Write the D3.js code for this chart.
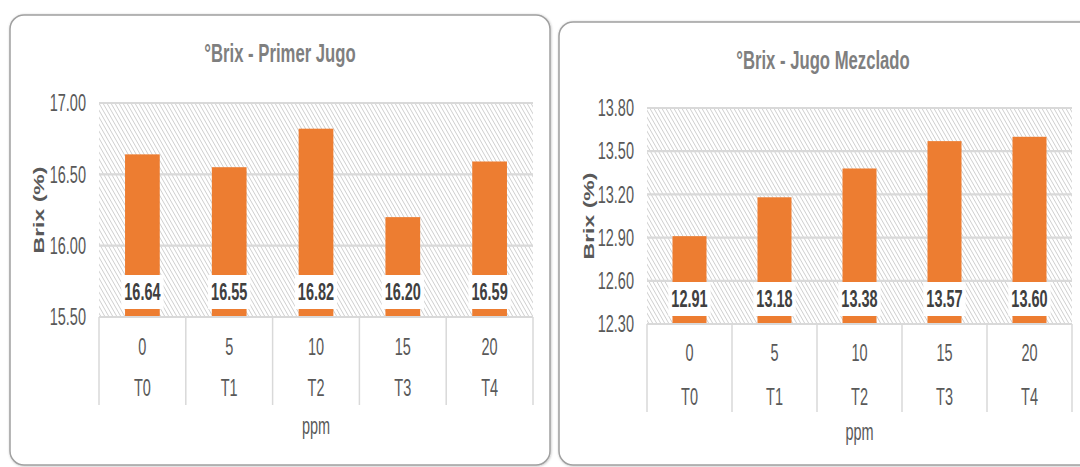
<!DOCTYPE html>
<html><head><meta charset="utf-8">
<script src="https://cdn.jsdelivr.net/npm/d3@7/dist/d3.min.js"></script>
<style>html,body{margin:0;padding:0;background:#fff;}svg{display:block;}</style>
</head><body>
<svg id="c" width="1080" height="467"></svg>
<script>
const ppm = ["0","5","10","15","20"];
const treatments = ["T0","T1","T2","T3","T4"];
const primerJugo = [16.64,16.55,16.82,16.20,16.59];
const jugoMezclado = [12.91,13.18,13.38,13.57,13.60];
const ticksPrimer = [15.50,16.00,16.50,17.00];
const ticksMezclado = [12.30,12.60,12.90,13.20,13.50,13.80];
const titles = ["°Brix - Primer Jugo","°Brix - Jugo Mezclado"];
const yTitle = "Brix (%)";
const xTitle = "ppm";

const S = 0.63; // horizontal text compression
const FONT = "'Liberation Sans', Arial, sans-serif";
const svg = d3.select("#c");

const defs = svg.append("defs");
const pat = defs.append("pattern").attr("id","hatch").attr("patternUnits","userSpaceOnUse")
  .attr("width",4).attr("height",7);
pat.append("rect").attr("width",4).attr("height",7).attr("fill","#fff");
pat.append("path").attr("d","M-1,-1.75L5,8.75M3,-1.75L5,1.75M-1,5.25L1,8.75")
  .attr("stroke","#cfcfcf").attr("stroke-width",1);
const flt = defs.append("filter").attr("id","sh").attr("x","-5%").attr("y","-5%").attr("width","110%").attr("height","110%");
flt.append("feDropShadow").attr("dx",0.5).attr("dy",0.5).attr("stdDeviation",0.8).attr("flood-color","#000").attr("flood-opacity",0.25);

function txt(g, x, y, s, opt) {
  const t = g.append("text")
    .attr("transform", `translate(${x},${y}) scale(${S},1)` + (opt.rot ? " rotate(-90)" : ""))
    .attr("text-anchor", opt.anchor || "middle")
    .attr("dy", "0.36em")
    .attr("font-family", FONT)
    .attr("font-size", opt.size || 22)
    .attr("font-weight", opt.weight || "normal")
    .attr("fill", opt.fill || "#595959")
    .text(s);
  return t;
}

function chart(cfg) {
  const g = svg.append("g");
  g.append("rect").attr("x",cfg.box[0]).attr("y",cfg.box[1]).attr("width",cfg.box[2]).attr("height",cfg.box[3])
    .attr("rx",14).attr("fill","#fff").attr("stroke","#a0a0a0").attr("stroke-width",1.5).attr("filter","url(#sh)");

  const x = d3.scaleBand().domain(cfg.cats).range([cfg.left, cfg.right]).paddingInner(0.6).paddingOuter(0.3);
  const xb = d3.scaleBand().domain(cfg.cats).range([cfg.left, cfg.right]);
  const y = d3.scaleLinear().domain([cfg.ticks[0], cfg.ticks[cfg.ticks.length-1]]).range([cfg.bottom, cfg.top]);

  g.append("rect").attr("x",cfg.left).attr("y",cfg.top).attr("width",cfg.right-cfg.left).attr("height",cfg.bottom-cfg.top)
    .attr("fill","url(#hatch)");

  // gridlines
  g.selectAll(".grid").data(cfg.ticks).join("line")
    .attr("x1",cfg.left).attr("x2",cfg.right)
    .attr("y1",d=>y(d)).attr("y2",d=>y(d))
    .attr("stroke","#d9d9d9").attr("stroke-width",2.2);

  // y tick labels
  cfg.ticks.forEach(t => txt(g, cfg.left-13, y(t), d3.format(".2f")(t), {anchor:"end", size:23}));

  // bars
  g.selectAll(".bar").data(cfg.values).join("rect")
    .attr("x",(d,i)=>x(cfg.cats[i])).attr("width",x.bandwidth())
    .attr("y",d=>y(d)).attr("height",d=>y(cfg.ticks[0])-y(d))
    .attr("fill","#ED7D31");

  // data labels
  cfg.values.forEach((v,i) => {
    const cx = x(cfg.cats[i]) + x.bandwidth()/2;
    const by = y(cfg.ticks[0]) - 8;
    const t = txt(g, cx, by-17, d3.format(".2f")(v), {size:23, weight:"bold", fill:"#404040"});
    const w = t.node().getComputedTextLength()*S;
    g.insert("rect", () => t.node()).attr("x",cx-w/2-3).attr("y",by-34).attr("width",w+6).attr("height",34).attr("fill","#fff");
  });

  // x axis line and separators
  const axY = y(cfg.ticks[0]);
  g.append("line").attr("x1",cfg.left).attr("x2",cfg.right).attr("y1",axY).attr("y2",axY)
    .attr("stroke","#d9d9d9").attr("stroke-width",2);
  const bounds = cfg.cats.map(c=>xb(c)).concat([cfg.right]);
  g.selectAll(".sep").data(bounds).join("line")
    .attr("x1",d=>d).attr("x2",d=>d).attr("y1",axY).attr("y2",cfg.catBottom)
    .attr("stroke","#d9d9d9").attr("stroke-width",1.5);

  cfg.cats.forEach((c,i) => {
    const cx = xb(c) + xb.bandwidth()/2;
    txt(g, cx, cfg.row1, c, {size:23});
    txt(g, cx, cfg.row2, cfg.cats2[i], {size:23});
  });

  txt(g, (cfg.left+cfg.right)/2, cfg.xTitleY, xTitle, {size:23});
  txt(g, cfg.titleX, cfg.titleY, cfg.title, {size:26.5, weight:"bold", fill:"#7f7f7f"});
  txt(g, cfg.yTitleX, (cfg.top+cfg.bottom)/2, yTitle, {size:23, weight:"bold", fill:"#595959", rot:true});
}

chart({box:[10,15,540,450], left:99, right:533, top:103, bottom:317, catBottom:405,
  cats:ppm, cats2:treatments, values:primerJugo, ticks:ticksPrimer,
  row1:347, row2:388, xTitleY:426, title:titles[0], titleX:280, titleY:52.5, yTitleX:39});

chart({box:[559,22,560,443], left:647, right:1072, top:108, bottom:324, catBottom:412,
  cats:ppm, cats2:treatments, values:jugoMezclado, ticks:ticksMezclado,
  row1:353, row2:397, xTitleY:432, title:titles[1], titleX:823, titleY:59, yTitleX:589});
</script>
</body></html>
